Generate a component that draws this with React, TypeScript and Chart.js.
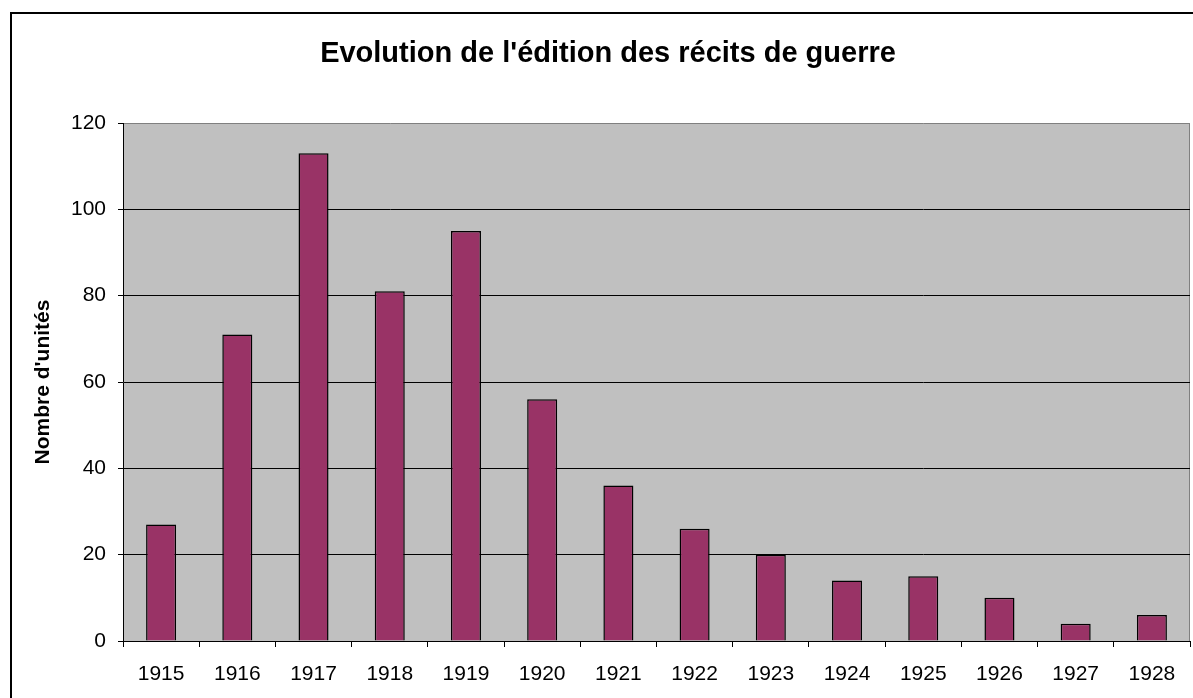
import React, { useEffect, useRef } from "react";
import { Chart, registerables } from "chart.js";

Chart.register(...registerables);

const years = ["1915", "1916", "1917", "1918", "1919", "1920", "1921", "1922", "1923", "1924", "1925", "1926", "1927", "1928"];
const units = [27, 71, 113, 81, 95, 56, 36, 26, 20, 14, 15, 10, 4, 6];
const chartTitle = "Evolution de l'édition des récits de guerre";
const yAxisTitle = "Nombre d'unités";

const decorPlugin = {
  id: "decor",
  beforeDraw(chart: any) {
    const { ctx, chartArea } = chart;
    ctx.save();
    ctx.fillStyle = "#ffffff";
    ctx.fillRect(0, 0, chart.width, chart.height);
    ctx.fillStyle = "#C0C0C0";
    ctx.fillRect(chartArea.left, chartArea.top, chartArea.right - chartArea.left, chartArea.bottom - chartArea.top);
    ctx.strokeStyle = "#808080";
    ctx.lineWidth = 1;
    ctx.beginPath();
    ctx.moveTo(chartArea.right - 0.5, chartArea.top);
    ctx.lineTo(chartArea.right - 0.5, chartArea.bottom);
    ctx.stroke();
    ctx.restore();
  },
  afterDraw(chart: any) {
    const { ctx } = chart;
    ctx.save();
    ctx.strokeStyle = "#000000";
    ctx.lineWidth = 2;
    ctx.strokeRect(11, 13, chart.width + 20, chart.height + 20);
    ctx.fillStyle = "#000000";
    ctx.font = "bold 29px 'Liberation Sans', Arial, sans-serif";
    ctx.textAlign = "center";
    ctx.textBaseline = "alphabetic";
    ctx.fillText(chartTitle, 608, 62);
    ctx.restore();
  },
};

export default function App() {
  const canvasRef = useRef<HTMLCanvasElement>(null);

  useEffect(() => {
    if (!canvasRef.current) return;
    const chart = new Chart(canvasRef.current, {
      type: "bar",
      data: {
        labels: years,
        datasets: [
          {
            label: yAxisTitle,
            data: units,
            backgroundColor: "#993366",
            borderColor: "#000000",
            borderWidth: 1.5,
            barPercentage: 0.394,
            categoryPercentage: 1,
          },
        ],
      },
      options: {
        animation: false,
        responsive: false,
        maintainAspectRatio: false,
        layout: { padding: { left: 0, right: 3, top: 123, bottom: 0 } },
        plugins: {
          legend: { display: false },
          title: { display: false },
          tooltip: { enabled: false },
        },
        scales: {
          x: {
            grid: {
              offset: true,
              drawOnChartArea: false,
              drawTicks: true,
              tickLength: 6,
              color: "#000000",
            },
            border: { color: "#000000", width: 1 },
            ticks: {
              color: "#000000",
              font: { family: "'Liberation Sans', Arial, sans-serif", size: 21 },
              padding: 15,
              maxRotation: 0,
              autoSkip: false,
            },
            afterFit: (scale: any) => {
              scale.height = 57;
            },
          },
          y: {
            min: 0,
            max: 120,
            ticks: {
              stepSize: 20,
              color: "#000000",
              font: { family: "'Liberation Sans', Arial, sans-serif", size: 21 },
              padding: 12,
            },
            grid: {
              color: (c: any) => (c.tick && c.tick.value === 120 ? "#808080" : "#000000"),
              tickColor: "#000000",
              tickLength: 5,
              lineWidth: 1,
            },
            border: { color: "#000000", width: 1 },
            title: {
              display: true,
              text: yAxisTitle,
              color: "#000000",
              font: { family: "'Liberation Sans', Arial, sans-serif", size: 21, weight: "bold" },
              padding: { top: 31, bottom: 0 },
            },
            afterFit: (scale: any) => {
              scale.width = 123;
            },
          },
        },
      },
      plugins: [decorPlugin],
    });
    return () => chart.destroy();
  }, []);

  return (
    <div style={{ position: "absolute", left: 0, top: 0, width: 1193, height: 698 }}>
      <canvas ref={canvasRef} width={1193} height={698} style={{ display: "block", width: 1193, height: 698 }} />
    </div>
  );
}
